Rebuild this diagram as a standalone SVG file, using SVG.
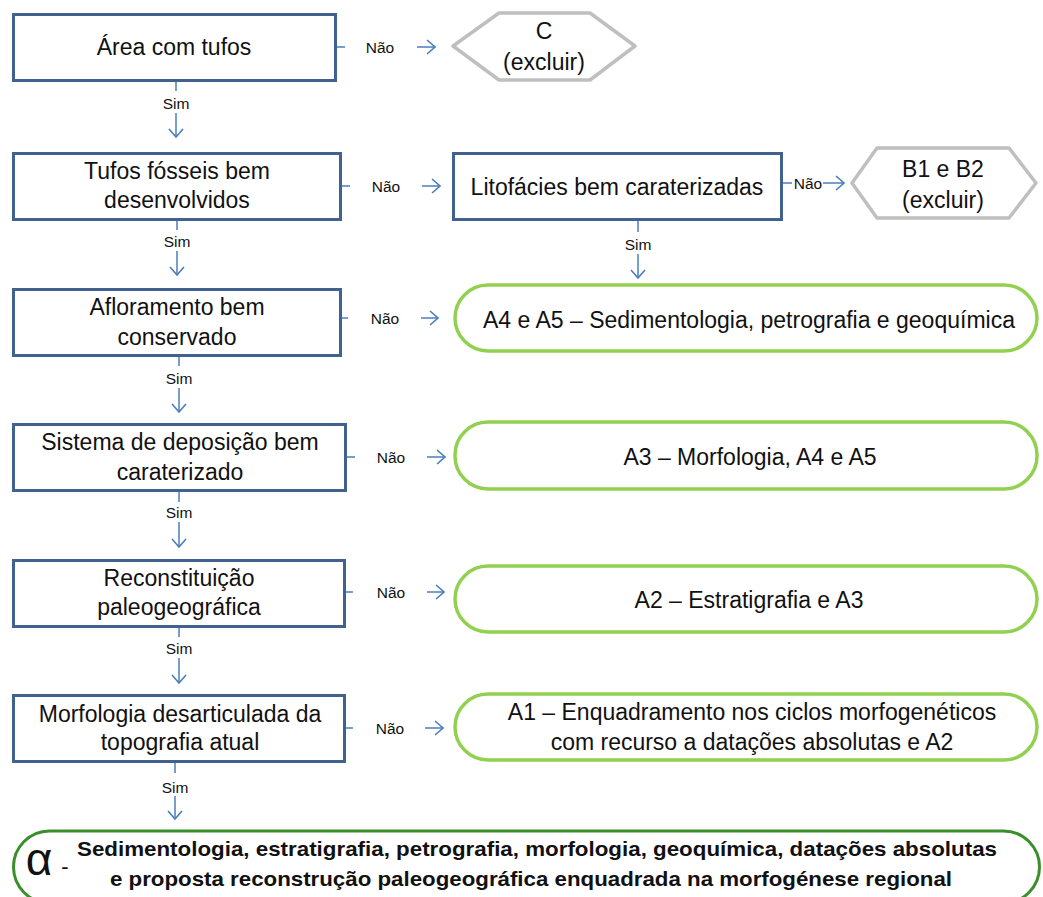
<svg xmlns="http://www.w3.org/2000/svg" width="1043" height="897" viewBox="0 0 1043 897">
<defs>
<style>
.t{font-family:"Liberation Sans",Arial,sans-serif;font-size:23px;fill:#111;text-anchor:middle}
.s{font-family:"Liberation Sans",Arial,sans-serif;font-size:15.5px;fill:#111;text-anchor:middle}
.b{font-family:"Liberation Sans",Arial,sans-serif;font-size:21px;font-weight:bold;fill:#111;text-anchor:middle}
.blue{fill:#fff;stroke:#41618E;stroke-width:3}
.gray{fill:#fff;stroke:#BFBFBF;stroke-width:3.5;stroke-linejoin:round}
.green{fill:#fff;stroke:#92D050;stroke-width:3.5}
.dgreen{fill:#fff;stroke:#3A8E2C;stroke-width:3}
.c{stroke:#4A7EBB;stroke-width:1.5;fill:none}
.a{stroke:#4A7EBB;stroke-width:1.5;fill:none;marker-end:url(#ah)}
</style>
<marker id="ah" viewBox="0 0 10 16" refX="9" refY="8" markerWidth="10" markerHeight="16" orient="auto" markerUnits="userSpaceOnUse">
<path d="M1,1 L9,8 L1,15" fill="none" stroke="#4A7EBB" stroke-width="1.6"/>
</marker>
</defs>
<rect width="1043" height="897" fill="#fff"/>

<g id="connectors">
<line class="c" x1="336" y1="47" x2="345" y2="47"/>
<text class="s" x="380" y="53">Não</text>
<line class="a" x1="417" y1="47" x2="435" y2="47"/>
<line class="c" x1="342" y1="186" x2="350" y2="186"/>
<text class="s" x="386" y="192">Não</text>
<line class="a" x1="422" y1="186" x2="440" y2="186"/>
<line class="c" x1="783" y1="183" x2="792" y2="183"/>
<text class="s" x="808" y="189">Não</text>
<line class="a" x1="823" y1="183" x2="844" y2="183"/>
<line class="c" x1="342" y1="318" x2="348" y2="318"/>
<text class="s" x="385" y="324">Não</text>
<line class="a" x1="421" y1="318" x2="438" y2="318"/>
<line class="c" x1="347" y1="457" x2="355" y2="457"/>
<text class="s" x="391" y="463">Não</text>
<line class="a" x1="427" y1="457" x2="445" y2="457"/>
<line class="c" x1="346" y1="592" x2="353" y2="592"/>
<text class="s" x="391" y="598">Não</text>
<line class="a" x1="427" y1="592" x2="444" y2="592"/>
<line class="c" x1="346" y1="728" x2="353" y2="728"/>
<text class="s" x="390" y="734">Não</text>
<line class="a" x1="425" y1="728" x2="443" y2="728"/>

<line class="c" x1="176" y1="82" x2="176" y2="91"/>
<text class="s" x="176" y="109">Sim</text>
<line class="a" x1="176" y1="113" x2="176" y2="137"/>
<line class="c" x1="177" y1="221" x2="177" y2="230"/>
<text class="s" x="177" y="247">Sim</text>
<line class="a" x1="177" y1="251" x2="177" y2="275"/>
<line class="c" x1="638" y1="221" x2="638" y2="232"/>
<text class="s" x="638" y="250">Sim</text>
<line class="a" x1="638" y1="254" x2="638" y2="278"/>
<line class="c" x1="179" y1="356" x2="179" y2="366"/>
<text class="s" x="179" y="384">Sim</text>
<line class="a" x1="179" y1="388" x2="179" y2="412"/>
<line class="c" x1="179" y1="492" x2="179" y2="502"/>
<text class="s" x="179" y="518">Sim</text>
<line class="a" x1="179" y1="522" x2="179" y2="547"/>
<line class="c" x1="179" y1="628" x2="179" y2="637"/>
<text class="s" x="179" y="654">Sim</text>
<line class="a" x1="179" y1="658" x2="179" y2="683"/>
<line class="c" x1="175" y1="763" x2="175" y2="773"/>
<text class="s" x="175" y="793">Sim</text>
<line class="a" x1="175" y1="796" x2="175" y2="819"/>
</g>

<g id="n1">
<rect class="blue" x="13.5" y="14.5" width="322" height="66"/>
<text class="t" x="174" y="55">Área com tufos</text>
</g>
<g id="nC">
<polygon class="gray" points="453,46 499,13 590,13 635,46 590,80 499,80"/>
<text class="t" x="544" y="39">C</text>
<text class="t" x="544" y="70">(excluir)</text>
</g>
<g id="n2">
<rect class="blue" x="13.5" y="153.5" width="327" height="66"/>
<text class="t" x="177" y="179">Tufos fósseis bem</text>
<text class="t" x="177" y="208">desenvolvidos</text>
</g>
<g id="nLito">
<rect class="blue" x="453.5" y="153.5" width="328" height="66"/>
<text class="t" x="617" y="195">Litofácies bem caraterizadas</text>
</g>
<g id="nB">
<polygon class="gray" points="852,183 877,148 1009,148 1036,183 1009,218 877,218"/>
<text class="t" x="943" y="177">B1 e B2</text>
<text class="t" x="943" y="208">(excluir)</text>
</g>
<g id="n3">
<rect class="blue" x="13.5" y="289.5" width="327" height="66"/>
<text class="t" x="177" y="315">Afloramento bem</text>
<text class="t" x="177" y="345">conservado</text>
</g>
<g id="nA45">
<rect class="green" x="455" y="285" width="582" height="66" rx="33"/>
<text class="t" x="749" y="328">A4 e A5 – Sedimentologia, petrografia e geoquímica</text>
</g>
<g id="n4">
<rect class="blue" x="13.5" y="424.5" width="332" height="66"/>
<text class="t" x="180" y="450">Sistema de deposição bem</text>
<text class="t" x="180" y="480">caraterizado</text>
</g>
<g id="nA3">
<rect class="green" x="455" y="422" width="582" height="67" rx="33"/>
<text class="t" x="750" y="465">A3 – Morfologia, A4 e A5</text>
</g>
<g id="n5">
<rect class="blue" x="13.5" y="560.5" width="331" height="66"/>
<text class="t" x="179" y="586">Reconstituição</text>
<text class="t" x="179" y="615">paleogeográfica</text>
</g>
<g id="nA2">
<rect class="green" x="455" y="566" width="582" height="66" rx="33"/>
<text class="t" x="749" y="608">A2 – Estratigrafia e A3</text>
</g>
<g id="n6">
<rect class="blue" x="13.5" y="695.5" width="331" height="66"/>
<text class="t" x="180" y="722">Morfologia desarticulada da</text>
<text class="t" x="180" y="750">topografia atual</text>
</g>
<g id="nA1">
<rect class="green" x="455" y="694" width="582" height="66" rx="33"/>
<text class="t" x="752" y="720">A1 – Enquadramento nos ciclos morfogenéticos</text>
<text class="t" x="752" y="750">com recurso a datações absolutas e A2</text>
</g>
<g id="nAlpha">
<rect class="dgreen" x="13.5" y="831" width="1026" height="72" rx="36"/>
<text x="39" y="875" style="font-family:'Liberation Sans',Arial,sans-serif;font-size:46px;fill:#111;text-anchor:middle">α</text>
<text x="65" y="874" style="font-family:'Liberation Sans',Arial,sans-serif;font-size:22px;fill:#111;text-anchor:middle">-</text>
<text class="b" x="537" y="856" textLength="920" lengthAdjust="spacingAndGlyphs">Sedimentologia, estratigrafia, petrografia, morfologia, geoquímica, datações absolutas</text>
<text class="b" x="531" y="886" textLength="842" lengthAdjust="spacingAndGlyphs">e proposta reconstrução paleogeográfica enquadrada na morfogénese regional</text>
</g>
</svg>
